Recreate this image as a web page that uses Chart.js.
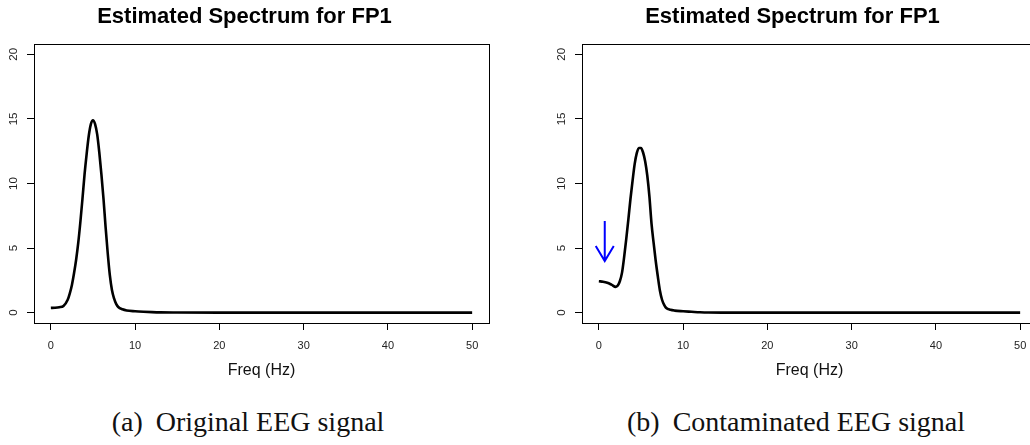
<!doctype html>
<html lang="en">
  <head>
    <meta charset="UTF-8" />
    <title>Estimated Spectrum for FP1</title>
    <script src="https://cdn.jsdelivr.net/npm/chart.js"></script>
    <style>
      html, body {
        margin: 0;
        padding: 0;
        width: 1030px;
        height: 445px;
        overflow: hidden;
        background: #fff;
      }
      .panel {
        position: absolute;
        top: 0;
      }
      .caption {
        position: absolute;
        top: 403px;
        width: 500px;
        margin-left: -250px;
        text-align: center;
        font-family: "Liberation Serif", "DejaVu Serif", serif;
        font-size: 28px;
        line-height: 38px;
        color: #111;
        white-space: nowrap;
      }
      .caption .tag {
        margin-right: 6px;
      }
    </style>
  </head>
  <body>
    <canvas id="chartA" class="panel" width="523" height="385" style="left: 0px"></canvas>
    <canvas id="chartB" class="panel" width="523" height="385" style="left: 548px"></canvas>

    <div class="caption" style="left: 248px"><span class="tag">(a)</span> Original EEG signal</div>
    <div class="caption" style="left: 796px"><span class="tag">(b)</span> Contaminated EEG signal</div>

    <script>
      // Data
      const chartTitle = "Estimated Spectrum for FP1";
      const xTitle = "Freq (Hz)";
      const xTicks = [0, 10, 20, 30, 40, 50];
      const yTicks = [0, 5, 10, 15, 20];

      const freqs = [
        0, 0.5, 1, 1.5, 2, 2.25, 2.5, 2.75, 3, 3.25, 3.5, 3.75, 4, 4.25, 4.5,
        4.75, 5, 5.25, 5.5, 5.75, 6, 6.25, 6.5, 6.75, 7, 7.25, 7.5, 7.75, 8,
        8.5, 9, 10, 11, 12, 13, 15, 20, 30, 40, 50,
      ];
      // (a) original signal
      const originalPower = [
        0.37, 0.38, 0.42, 0.52, 1.0, 1.5, 2.15, 3.05, 4.1, 5.4, 7.0, 8.8,
        10.7, 12.3, 13.7, 14.6, 14.9, 14.6, 13.8, 12.4, 10.7, 8.8, 6.6, 4.6,
        2.9, 1.75, 1.1, 0.68, 0.44, 0.26, 0.17, 0.11, 0.07, 0.04, 0.02, 0.01,
        0, 0, 0, 0,
      ];
      // (b) contaminated signal
      const contaminatedPower = [
        2.43, 2.4, 2.32, 2.17, 2.0, 2.1, 2.45, 3.1, 4.3, 5.7, 7.2, 8.8, 10.2,
        11.5, 12.35, 12.75, 12.75, 12.4, 11.7, 10.6, 9.0, 6.9, 5.4, 4.0, 2.8,
        1.7, 1.0, 0.6, 0.36, 0.22, 0.16, 0.11, 0.07, 0.03, 0.01, 0.005, 0, 0,
        0, 0,
      ];
      // blue arrow in (b): from (freq, power) to (freq, power)
      const arrowFrom = [0.7, 7.1];
      const arrowTo = [0.7, 4.0];

      const sans = "'Liberation Sans', Arial, sans-serif";

      // box around the plot region + rotated y labels (R style)
      const framePlugin = {
        id: "frame",
        afterDraw(chart) {
          const { ctx, chartArea } = chart;
          const yScale = chart.scales.y;
          ctx.save();
          ctx.strokeStyle = "#000";
          ctx.lineWidth = 1;
          ctx.strokeRect(
            Math.round(chartArea.left) + 0.5,
            Math.round(chartArea.top) + 0.5,
            Math.round(chartArea.right - chartArea.left),
            Math.round(chartArea.bottom - chartArea.top),
          );
          ctx.fillStyle = "#222";
          ctx.font = "11.5px " + sans;
          ctx.textAlign = "center";
          ctx.textBaseline = "middle";
          yTicks.forEach((v) => {
            const py = yScale.getPixelForValue(v);
            ctx.save();
            ctx.translate(14, py);
            ctx.rotate(-Math.PI / 2);
            ctx.fillText(String(v), 0, 0);
            ctx.restore();
          });
          ctx.restore();
        },
      };

      const arrowPlugin = {
        id: "arrow",
        afterDatasetsDraw(chart, args, opts) {
          if (!opts.show) return;
          const { ctx, scales } = chart;
          const x0 = scales.x.getPixelForValue(arrowFrom[0]);
          const y0 = scales.y.getPixelForValue(arrowFrom[1]);
          const x1 = scales.x.getPixelForValue(arrowTo[0]);
          const y1 = scales.y.getPixelForValue(arrowTo[1]);
          const ang = Math.atan2(y1 - y0, x1 - x0);
          const len = 17.5;
          const spread = (31 * Math.PI) / 180;
          ctx.save();
          ctx.strokeStyle = "#0000ff";
          ctx.lineWidth = 2;
          ctx.beginPath();
          ctx.moveTo(x0, y0);
          ctx.lineTo(x1, y1);
          ctx.moveTo(
            x1 - len * Math.cos(ang - spread),
            y1 - len * Math.sin(ang - spread),
          );
          ctx.lineTo(x1, y1);
          ctx.lineTo(
            x1 - len * Math.cos(ang + spread),
            y1 - len * Math.sin(ang + spread),
          );
          ctx.stroke();
          ctx.restore();
        },
      };

      function makeChart(id, power, showArrow) {
        const ctx = document.getElementById(id).getContext("2d");
        return new Chart(ctx, {
          type: "line",
          data: {
            datasets: [
              {
                data: freqs.map((f, i) => ({ x: f, y: power[i] })),
                borderColor: "#000",
                borderWidth: 2.6,
                pointRadius: 0,
                cubicInterpolationMode: "monotone",
                fill: false,
              },
            ],
          },
          options: {
            responsive: false,
            animation: false,
            devicePixelRatio: 1,
            layout: { padding: { left: 0, right: 34, top: 0, bottom: 0 } },
            plugins: {
              legend: { display: false },
              tooltip: { enabled: false },
              title: {
                display: true,
                text: chartTitle,
                color: "#000",
                font: { family: sans, size: 22, weight: "bold" },
                padding: { top: 3.8, bottom: 13.8 },
              },
              arrow: { show: showArrow },
            },
            scales: {
              x: {
                type: "linear",
                min: -2,
                max: 52,
                afterBuildTicks: (s) => {
                  s.ticks = xTicks.map((v) => ({ value: v }));
                },
                afterFit: (s) => {
                  s.height = 62;
                },
                grid: {
                  drawOnChartArea: false,
                  drawTicks: true,
                  tickLength: 7,
                  color: "#000",
                },
                border: { display: false },
                ticks: {
                  color: "#222",
                  font: { family: sans, size: 11 },
                  padding: 9,
                  maxRotation: 0,
                  autoSkip: false,
                },
                title: {
                  display: true,
                  text: xTitle,
                  color: "#111",
                  font: { family: sans, size: 16 },
                  padding: { top: 0, bottom: 4.6 },
                },
              },
              y: {
                type: "linear",
                min: -0.8,
                max: 20.8,
                afterBuildTicks: (s) => {
                  s.ticks = yTicks.map((v) => ({ value: v }));
                },
                afterFit: (s) => {
                  s.width = 34;
                },
                grid: {
                  drawOnChartArea: false,
                  drawTicks: true,
                  tickLength: 7,
                  color: "#000",
                },
                border: { display: false },
                ticks: { display: false },
              },
            },
          },
          plugins: [framePlugin, arrowPlugin],
        });
      }

      makeChart("chartA", originalPower, false);
      makeChart("chartB", contaminatedPower, true);
    </script>
  </body>
</html>
